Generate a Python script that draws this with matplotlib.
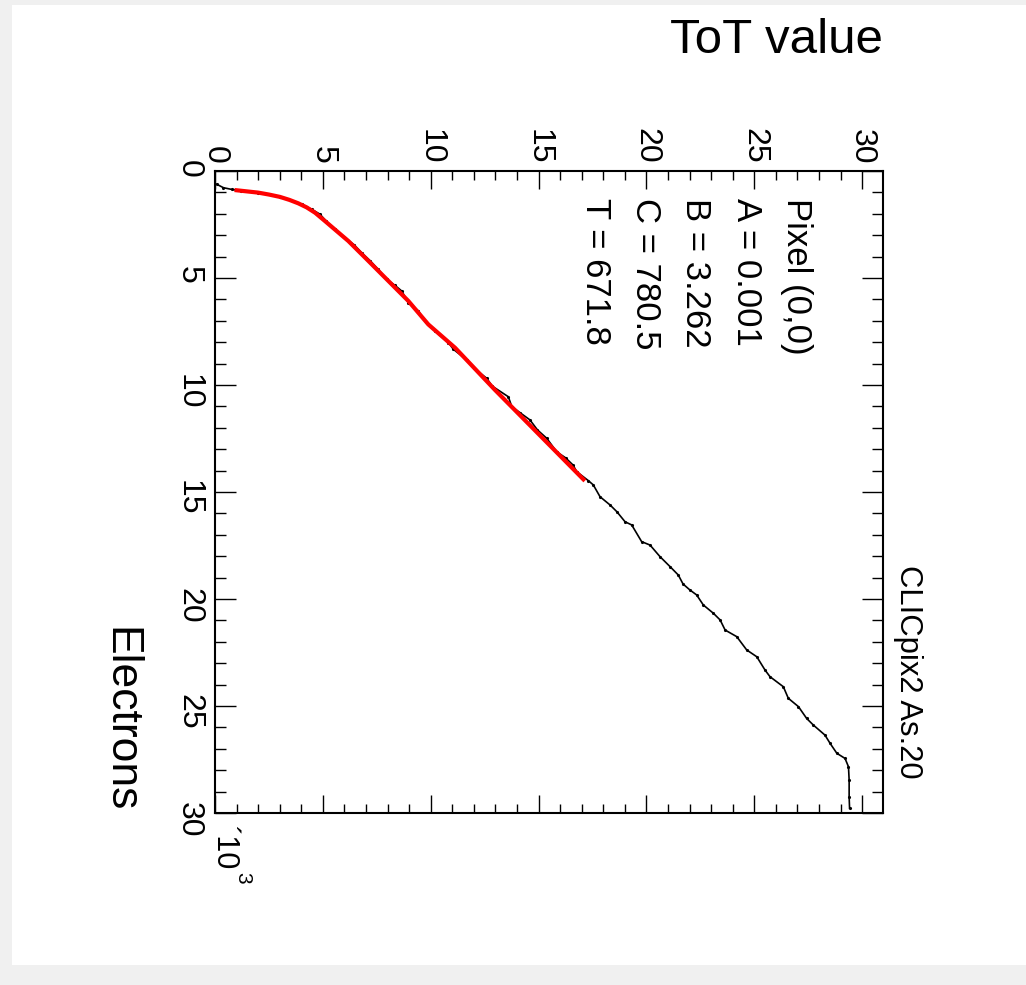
import matplotlib
matplotlib.use("Agg")
import matplotlib.pyplot as plt
from matplotlib.patches import Rectangle
from matplotlib.ticker import MultipleLocator

plt.rcParams['font.family'] = ['Liberation Sans', 'DejaVu Sans']

# measured profile: electrons (x10^3) and mean ToT
data_electrons = [0.62, 0.78, 0.86, 0.92, 1.01, 1.21, 1.56, 1.79, 2.02, 2.34, 2.73, 3.12,
                  3.45, 3.82, 4.2, 4.6, 5.06, 5.35, 5.61, 6.15, 6.54, 7.12, 7.48, 8.02,
                  8.33, 8.83, 9.2, 9.69, 10.05, 10.55, 11.01, 11.3, 11.63, 12.1, 12.49,
                  13.12, 13.4, 13.74, 14.05, 14.47, 14.67, 15.22, 15.61, 15.92, 16.39,
                  16.54, 17.32, 17.48, 18.02, 18.49, 18.88, 19.3, 19.58, 19.81, 20.28,
                  20.67, 20.98, 21.45, 21.76, 22.38, 22.7, 23.32, 23.63, 24.1, 24.64,
                  25.03, 25.58, 25.89, 26.36, 26.75, 27.21, 27.45, 27.84, 28.46, 29.24, 29.78]
data_tot = [0.08, 0.39, 0.77, 1.2, 2.0, 3.0, 4.02, 4.48, 4.87, 5.15, 5.56, 6.03,
            6.45, 6.8, 7.2, 7.57, 7.96, 8.35, 8.66, 8.96, 9.43, 9.81, 10.2, 10.82,
            11.05, 11.67, 12.0, 12.6, 12.85, 13.6, 13.76, 14.15, 14.6, 14.95, 15.38,
            15.84, 16.25, 16.6, 16.77, 17.31, 17.54, 17.85, 18.32, 18.63, 19.01,
            19.32, 19.78, 20.17, 20.63, 21.1, 21.48, 21.7, 22.02, 22.33, 22.64,
            23.11, 23.42, 23.65, 24.19, 24.65, 25.12, 25.5, 25.73, 26.35, 26.58,
            27.05, 27.43, 27.74, 28.28, 28.52, 28.83, 29.21, 29.37, 29.4, 29.4, 29.42]

# fit curve
fit_electrons = [0.90, 1.01, 1.1, 1.21, 1.35, 1.51, 1.7, 1.95, 2.34, 3.27, 4.05, 5.14,
                 6.07, 7.17, 8.26, 10.23, 14.41]
fit_tot = [1.0, 2.0, 2.5, 3.01, 3.45, 3.86, 4.25, 4.64, 5.1, 6.18, 6.96, 8.04,
           8.96, 9.89, 11.13, 12.98, 17.08]

fit_params = ["Pixel (0,0)", "A = 0.001", "B = 3.262", "C = 780.5", "T = 671.8"]

W, H = 1026, 985
fig = plt.figure(figsize=(W / 100, H / 100), dpi=100)
fig.patch.set_facecolor('#f0f0f0')
fig.patches.append(Rectangle((12 / W, 20 / H), 1 - 12 / W, 1 - 25 / H,
                             transform=fig.transFigure, facecolor='white',
                             edgecolor='none', zorder=-10))

ax = fig.add_axes([215 / W, 1 - 813 / H, 668 / W, 642 / H])
ax.set_zorder(5)
ax.patch.set_alpha(0)
ax.plot(data_tot, data_electrons, color='black', lw=1.2, marker='.', ms=2.5)
ax.plot(fit_tot, fit_electrons, color='red', lw=3)

ax.set_xlim(0, 30.97)
ax.set_ylim(30, 0)
ax.xaxis.set_major_locator(MultipleLocator(5))
ax.xaxis.set_minor_locator(MultipleLocator(1))
ax.yaxis.set_major_locator(MultipleLocator(5))
ax.yaxis.set_minor_locator(MultipleLocator(1))

ax.tick_params(axis='x', which='both', direction='in', top=True, bottom=True,
               labeltop=True, labelbottom=False, labelsize=23, labelrotation=-90, pad=5)
ax.tick_params(axis='y', which='both', direction='in', left=True, right=True,
               labelleft=True, labelright=False, labelsize=23, labelrotation=-90, pad=8)
ax.tick_params(axis='x', which='major', length=13.3, width=1.0)
ax.tick_params(axis='x', which='minor', length=6.7, width=1.0)
ax.tick_params(axis='y', which='major', length=14.9, width=1.0)
ax.tick_params(axis='y', which='minor', length=7.7, width=1.0)
for s in ax.spines.values():
    s.set_linewidth(1.5)

fig.text(883 / W, 1 - 53 / H, "ToT value", fontsize=35.5, ha='right', va='baseline')
fig.text(120 / W, 1 - 812 / H, "Electrons", fontsize=32, rotation=-90,
         ha='center', va='bottom')
fig.text(908 / W, 1 - 565 / H, "CLICpix2 As.20", fontsize=22.3, rotation=-90,
         ha='center', va='top')
fig.text(224 / W, 1 - 826 / H, "\u00b410", fontsize=22, rotation=-90,
         ha='center', va='top')
fig.text(243 / W, 1 - 872 / H, "3", fontsize=15, rotation=-90,
         ha='center', va='top')

for i, line in enumerate(fit_params):
    fig.text((797 - 50.5 * i) / W, 1 - 198 / H, line, fontsize=25, rotation=-90,
             ha='center', va='top')

fig.savefig("out.png", dpi=100)
